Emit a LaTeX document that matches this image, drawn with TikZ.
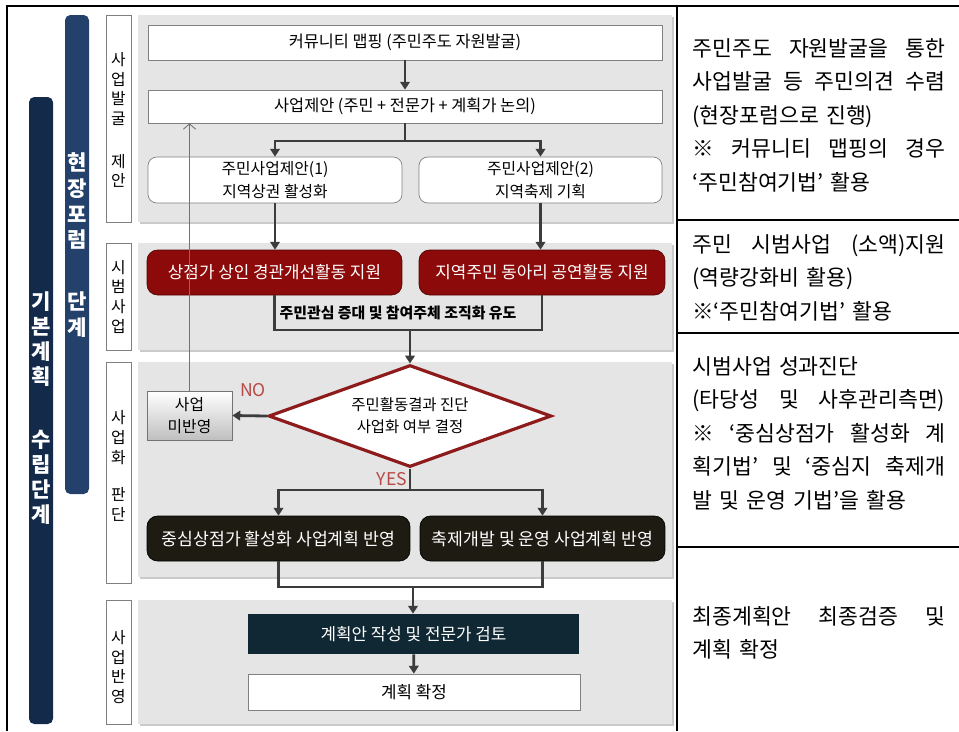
\documentclass[tikz,border=0pt]{standalone}
\usepackage{fontspec}
\setmainfont{Noto Sans CJK KR}
\usetikzlibrary{positioning,arrows.meta,shapes.geometric}

\definecolor{navyA}{HTML}{132A4B}
\definecolor{navyB}{HTML}{24416B}
\definecolor{panelgray}{HTML}{E5E5E5}
\definecolor{shadegray}{HTML}{CACACA}
\definecolor{boxred}{HTML}{8C0A0A}
\definecolor{boxblack}{HTML}{1E1B13}
\definecolor{boxteal}{HTML}{0F2833}
\definecolor{linegray}{HTML}{3C3C3C}
\definecolor{diared}{HTML}{8E1B1B}
\definecolor{yesno}{HTML}{B54A47}

\newcommand{\fullline}[1]{\makebox[5.06cm][s]{\spaceskip=0.25em plus 1fil\relax #1}}

\begin{document}
\begin{tikzpicture}[x=0.02cm,y=-0.02cm,
    font=\fontsize{9}{11}\selectfont,
    frame/.style={draw=black!50,fill=white},
    plainbox/.style={draw=black!50,fill=white,inner sep=0pt,font=\fontsize{9.3}{11}\selectfont},
    propbox/.style={plainbox,rounded corners=5pt,align=center,font=\fontsize{9}{13.5}\selectfont},
    redbox/.style={draw=boxred!60!black,fill=boxred,rounded corners=6pt,text=white,inner sep=0pt,minimum height=0.9cm,font=\fontsize{9.6}{11}\selectfont},
    blkbox/.style={redbox,draw=black,fill=boxblack,font=\fontsize{9.8}{11}\selectfont},
    bartext/.style={text=white,align=center,font=\bfseries\fontsize{12}{14.3}\selectfont},
    stagetext/.style={align=center,font=\fontsize{9}{11.2}\selectfont},
    memo/.style={anchor=north west,inner sep=0pt,text width=5.2cm,align=left,font=\fontsize{12.3}{19.1}\selectfont},
    line/.style={draw=linegray,line width=1.6pt},
    arr/.style={line,-{Triangle[length=4.5pt,width=5.5pt]}},
    back/.style={draw=black!55,line width=0.5pt,-{Straight Barb[length=3pt,width=7pt]}},
    tag/.style={text=yesno,font=\fontsize{10}{12}\selectfont}
  ]
  \useasboundingbox (0,0) rectangle (959,731);

  % table lines
  \draw[line width=0.6pt] (7,731) -- (7,6) -- (959,6);
  \draw[line width=0.6pt] (677,6) -- (677,731);
  \foreach \yy in {220,333,547}
    \draw[line width=0.6pt] (677,\yy) -- (959,\yy);

  % stage bars
  \fill[navyA,rounded corners=3pt] (29,97) rectangle (53,724);
  \fill[navyB,rounded corners=3pt] (65,15) rectangle (89,494);
  \node[bartext] (basicTxt) at (41,408) {기\\본\\계\\획\\[21.5pt]수\\립\\단\\계};
  \node[bartext,font=\bfseries\fontsize{12}{14.7}\selectfont] (forumTxt) at (77,245) {현\\장\\포\\럼\\[20.4pt]단\\계};

  % panels and stage frames
  \foreach \ya/\yb in {15/222,243/350,362/577,600/724}{
    \fill[shadegray] (140,\ya+2) rectangle (674,\yb+2);
    \fill[panelgray] (138,\ya) rectangle (672,\yb);
  }
  \foreach \ya/\yb in {15/222,243/350,362/583,600/724}
    \draw[frame] (106,\ya) rectangle (131,\yb);

  \node[stagetext] (findTxt) at (118.5,120) {사\\업\\발\\굴\\[13pt]제\\안};
  \node[stagetext] (pilotTxt) at (118.5,296.5) {시\\범\\사\\업};
  \node[stagetext] (judgeTxt) at (118.5,466) {사\\업\\화\\[10pt]판\\단};
  \node[stagetext] (applyTxt) at (118.5,667) {사\\업\\반\\영};

  % discovery
  \node[plainbox,minimum width=10.28cm,minimum height=0.7cm] (map) at (405,42.5) {커뮤니티 맵핑 (주민주도 자원발굴)};
  \node[plainbox,minimum width=10.28cm,minimum height=0.66cm] (prop) at (405,106.5) {사업제안 (주민 + 전문가 + 계획가 논의)};
  \node[propbox,minimum width=5.08cm,minimum height=0.92cm] (sug1) at (275,180) {주민사업제안(1)\\지역상권 활성화};
  \node[propbox,minimum width=4.86cm,minimum height=0.92cm] (sug2) at (540.5,180) {주민사업제안(2)\\지역축제 기획};
  \coordinate (split1) at (405,141);
  \draw[arr] (map) -- (prop);
  \draw[line] (prop) -- (split1);
  \draw[arr] (split1) -| (sug1.north);
  \draw[arr] (split1) -| (sug2.north);

  % pilot
  \node[redbox,minimum width=5.1cm] (act1) at (274.5,272.5) {상점가 상인 경관개선활동 지원};
  \node[redbox,minimum width=4.92cm] (act2) at (542,272.5) {지역주민 동아리 공연활동 지원};
  \draw[arr] (sug1.south) -- (sug1.south |- act1.north);
  \draw[arr] (sug2.south) -- (sug2.south |- act2.north);
  \coordinate (merge1) at (410,330);
  \draw[line] (act1.south) -- (act1.south |- merge1) -- (act2.south |- merge1) -- (act2.south);
  \node[font=\bfseries\fontsize{8.5}{9}\selectfont] (effect) at (398,313) {주민관심 증대 및 참여주체 조직화 유도};

  % decision
  \node[diamond,draw=diared,line width=1.8pt,fill=white,minimum width=5.66cm,minimum height=2.04cm,inner sep=0pt,aspect=2.8,align=center,font=\fontsize{8.8}{12.5}\selectfont] (dec) at (410,416) {주민활동결과 진단\\사업화 여부 결정};
  \draw[arr] (merge1) -- (merge1 |- dec.north);
  \node[draw=black!55,top color=white,bottom color=black!25,minimum width=1.7cm,minimum height=0.98cm,inner sep=0pt,align=center,font=\fontsize{9}{12.5}\selectfont] (skip) at (189.5,415.5) {사업\\미반영};
  \draw[arr] (dec.west) -- (skip.east);
  \node[tag] (noTag) at (253,390) {NO};
  \draw[back] (skip.north) -- (skip.north |- prop.south);

  \node[tag] (yesTag) at (392,479) {YES};
  \coordinate (split2) at (410,490);
  \draw[line] (dec.south) -- (split2);
  \node[blkbox,minimum width=5.26cm] (out1) at (278.5,538.5) {중심상점가 활성화 사업계획 반영};
  \node[blkbox,minimum width=4.9cm] (out2) at (542.5,538.5) {축제개발 및 운영 사업계획 반영};
  \draw[arr] (split2) -| (out1.north);
  \draw[arr] (split2) -| (out2.north);

  % final
  \coordinate (merge2) at (413,587);
  \draw[line] (out1.south) -- (out1.south |- merge2) -- (out2.south |- merge2) -- (out2.south);
  \node[fill=boxteal,text=white,minimum width=6.62cm,minimum height=0.8cm,inner sep=0pt,font=\fontsize{9.6}{11}\selectfont] (draft) at (413.5,634) {계획안 작성 및 전문가 검토};
  \draw[arr] (merge2) -- (merge2 |- draft.north);
  \node[plainbox,minimum width=6.64cm,minimum height=0.72cm,font=\fontsize{9.6}{11}\selectfont] (final) at (414,692) {계획 확정};
  \draw[arr] (draft) -- (final);

  % notes
  \node[memo] (memo1) at (692,38) {\fullline{주민주도 자원발굴을 통한}\\\fullline{사업발굴 등 주민의견 수렴}\\(현장포럼으로 진행)\\\fullline{※ 커뮤니티 맵핑의 경우}\\‘주민참여기법’ 활용};
  \node[memo] (memo2) at (692,234) {\fullline{주민 시범사업 (소액)지원}\\(역량강화비 활용)\\※‘주민참여기법’ 활용};
  \node[memo] (memo3) at (692,356) {시범사업 성과진단\\\fullline{(타당성 및 사후관리측면)}\\\fullline{※ ‘중심상점가 활성화 계}\\\fullline{획기법’ 및 ‘중심지 축제개}\\발 및 운영 기법’을 활용};
  \node[memo] (memo4) at (692,606) {\fullline{최종계획안 최종검증 및}\\계획 확정};
\end{tikzpicture}
\end{document}
